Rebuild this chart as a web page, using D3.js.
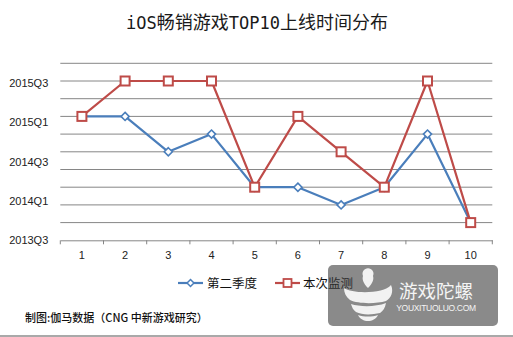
<!DOCTYPE html>
<html>
<head>
<meta charset="utf-8">
<script src="https://cdn.jsdelivr.net/npm/d3@7"></script>
<style>
  html, body { margin: 0; padding: 0; background: #fff; }
  svg { display: block; }
</style>
</head>
<body>
<svg id="chart" width="513" height="337"></svg>
<script>
// Ranking positions 1..10
const categories = ["1", "2", "3", "4", "5", "6", "7", "8", "9", "10"];
// Launch time, in gridline steps above the baseline
const seriesQ2 = [7, 7, 5, 6, 3, 3, 2, 3, 6, 1];
const seriesNow = [7, 9, 9, 9, 3, 7, 5, 3, 9, 1];
const seriesNames = ["第二季度", "本次监测"];
const yTickLabels = ["2013Q3", "2014Q1", "2014Q3", "2015Q1", "2015Q3"];
const titleParts = [["iOS", "latin"], ["畅销游戏", "cjk"], ["TOP10", "latin"], ["上线时间分布", "cjk"]];

const svg = d3.select("#chart");
const cjk = "'Noto Sans CJK SC', 'Noto Sans', sans-serif";
const gray = "#868686";
const blue = "#4a7ebb";
const red = "#be4b48";

const plot = { left: 60.3, right: 492.3, top: 63.3, bottom: 240.3 };

const x = d3.scaleBand().domain(categories).range([plot.left, plot.right]);
const y = d3.scaleLinear().domain([0, 10]).range([plot.bottom, plot.top]);
// Axis labels are spread evenly over their own scale
const yLab = d3.scaleLinear().domain([0, 4.5]).range([plot.bottom, plot.top]);

// Title
const title = svg.append("text")
  .attr("x", 257).attr("y", 29)
  .attr("text-anchor", "middle")
  .attr("font-size", 18)
  .attr("fill", "#1a1a1a");
titleParts.forEach(([t, kind]) => {
  title.append("tspan")
    .attr("font-family", kind === "latin" ? "'DejaVu Sans Mono', monospace" : cjk)
    .attr("font-size", kind === "latin" ? 17 : 18)
    .text(t);
});

// Horizontal gridlines
svg.append("g")
  .selectAll("line")
  .data(d3.range(1, 11))
  .join("line")
  .attr("x1", plot.left).attr("x2", plot.right)
  .attr("y1", d => y(d)).attr("y2", d => y(d))
  .attr("stroke", gray).attr("stroke-width", 1);

// Category axis
const xAxis = d3.axisBottom(x).tickSize(0).tickPadding(11);
const xg = svg.append("g")
  .attr("transform", `translate(0,${plot.bottom})`)
  .call(xAxis);
xg.select(".domain").attr("stroke", gray).attr("stroke-width", 1);
xg.selectAll("text")
  .attr("font-family", "'Liberation Sans', Arial, sans-serif")
  .attr("font-size", 11)
  .attr("fill", "#222");
// boundary tick marks between categories
svg.append("g")
  .selectAll("line")
  .data(d3.range(categories.length + 1))
  .join("line")
  .attr("x1", i => plot.left + i * x.step())
  .attr("x2", i => plot.left + i * x.step())
  .attr("y1", plot.bottom).attr("y2", plot.bottom + 4)
  .attr("stroke", gray).attr("stroke-width", 1);

// Value axis labels
const yAxis = d3.axisLeft(yLab)
  .tickValues(d3.range(yTickLabels.length))
  .tickFormat(i => yTickLabels[i])
  .tickSize(0).tickPadding(12);
const yg = svg.append("g")
  .attr("transform", `translate(${plot.left},0)`)
  .call(yAxis);
yg.select(".domain").remove();
yg.selectAll("text")
  .attr("font-family", "'Liberation Sans', Arial, sans-serif")
  .attr("font-size", 11)
  .attr("fill", "#222");

const cx = d => x(d) + x.bandwidth() / 2;
const line = d3.line().x((v, i) => cx(categories[i])).y(v => y(v));

// Q2 series (diamonds)
svg.append("path")
  .datum(seriesQ2)
  .attr("d", line)
  .attr("fill", "none").attr("stroke", blue).attr("stroke-width", 2.2)
  .attr("stroke-linejoin", "round");
svg.append("g")
  .selectAll("path")
  .data(seriesQ2)
  .join("path")
  .attr("d", d3.symbol(d3.symbolDiamond2, 42))
  .attr("transform", (v, i) => `translate(${cx(categories[i])},${y(v)})`)
  .attr("fill", "#fff").attr("stroke", blue).attr("stroke-width", 1.6);

// Current series (squares)
svg.append("path")
  .datum(seriesNow)
  .attr("d", line)
  .attr("fill", "none").attr("stroke", red).attr("stroke-width", 2.2)
  .attr("stroke-linejoin", "round");
svg.append("g")
  .selectAll("rect")
  .data(seriesNow)
  .join("rect")
  .attr("x", (v, i) => cx(categories[i]) - 4.5)
  .attr("y", v => y(v) - 4.5)
  .attr("width", 9).attr("height", 9)
  .attr("fill", "#fff").attr("stroke", red).attr("stroke-width", 2);

// Legend
const legY = 283;
const legend = [
  { name: seriesNames[0], color: blue, x0: 178, x1: 203, tx: 207, kind: "diamond" },
  { name: seriesNames[1], color: red, x0: 275, x1: 300, tx: 303, kind: "square" }
];
legend.forEach(l => {
  const g = svg.append("g");
  g.append("line")
    .attr("x1", l.x0).attr("x2", l.x1).attr("y1", legY).attr("y2", legY)
    .attr("stroke", l.color).attr("stroke-width", 2.2);
  const mx = (l.x0 + l.x1) / 2;
  if (l.kind === "diamond") {
    g.append("path")
      .attr("d", d3.symbol(d3.symbolDiamond2, 30))
      .attr("transform", `translate(${mx},${legY})`)
      .attr("fill", "#fff").attr("stroke", l.color).attr("stroke-width", 1.5);
  } else {
    g.append("rect")
      .attr("x", mx - 4).attr("y", legY - 4).attr("width", 8).attr("height", 8)
      .attr("fill", "#fff").attr("stroke", l.color).attr("stroke-width", 1.8);
  }
  g.append("text")
    .attr("x", l.tx).attr("y", legY + 4.5)
    .attr("font-family", cjk).attr("font-size", 12.5)
    .attr("fill", "#111")
    .text(l.name);
});

// Source note
svg.append("text")
  .attr("x", 25).attr("y", 322)
  .attr("font-family", cjk).attr("font-size", 11).attr("font-weight", 500)
  .attr("fill", "#111")
  .text("制图:伽马数据（CNG 中新游戏研究）");

// Publisher badge (translucent, so the text beneath shows through)
const badge = svg.append("g");
badge.append("rect")
  .attr("x", 328).attr("y", 265).attr("width", 170).attr("height", 61)
  .attr("rx", 5).attr("fill", "#3a3a3a").attr("opacity", 0.594);
const logo = badge.append("g").attr("fill", "#f2f2f2");
logo.append("path")
  .attr("d", "M368,288 C363,283 362,279 363,276 A5.5,5.5 0 1 1 373,276 C374,279 373,283 368,288 Z");
logo.append("path")
  .attr("d", "M344,288 C352,294 384,294 391,285 C394,292 391,298 386,301 C376,304 358,304 350,300 C346,297 344,293 344,288 Z");
logo.append("path")
  .attr("d", "M351,304 C360,307 376,307 386,303 C385,308 383,311 380,313 C371,315 362,315 356,312 C353,310 352,307 351,304 Z");
logo.append("path")
  .attr("d", "M358,315 C364,317 372,317 378,315 C376,319 372,321 368,321 C364,321 360,319 358,315 Z");
badge.append("text")
  .attr("x", 436).attr("y", 297.5)
  .attr("text-anchor", "middle")
  .attr("font-family", cjk).attr("font-size", 18.5)
  .attr("fill", "#f4f4f4")
  .text("游戏陀螺");
badge.append("text")
  .attr("x", 436).attr("y", 310.5)
  .attr("text-anchor", "middle")
  .attr("font-family", "'Liberation Sans Narrow', 'Liberation Sans', sans-serif")
  .attr("font-size", 8.5).attr("letter-spacing", -0.3)
  .attr("fill", "#f4f4f4")
  .text("YOUXITUOLUO.COM");

// Bottom rule
svg.append("line")
  .attr("x1", 0).attr("x2", 513).attr("y1", 336).attr("y2", 336)
  .attr("stroke", "#8c8c8c").attr("stroke-width", 1.5);
</script>
</body>
</html>
